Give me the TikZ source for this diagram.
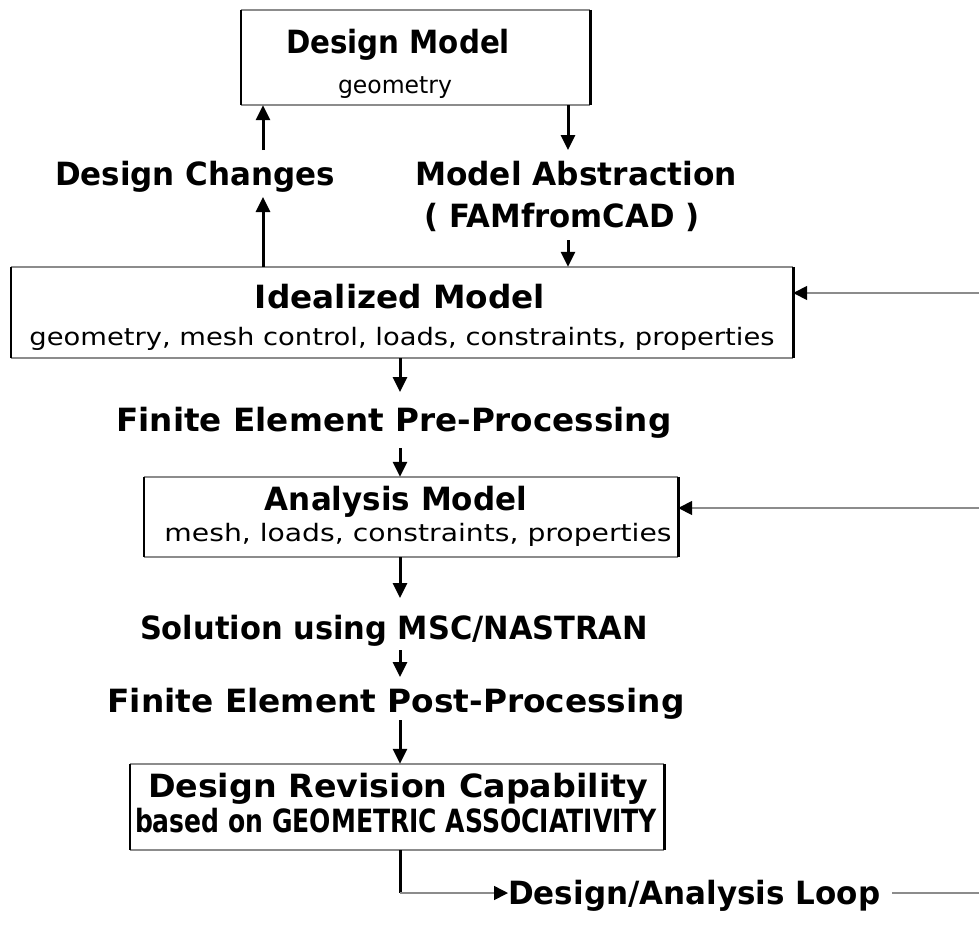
\documentclass[tikz,border=0pt]{standalone}
\usepackage{fontspec}
\setmainfont{DejaVu Sans}
\usetikzlibrary{arrows.meta}

% stretch a label horizontally to a given width, keeping its height
\newcommand{\fitw}[2]{\resizebox{#1}{\height}{#2}}

\tikzset{
  title/.style={font=\fontsize{32}{36}\selectfont\bfseries, inner sep=0pt, anchor=base},
  sub/.style={font=\fontsize{24}{28}\selectfont, inner sep=0pt, anchor=base},
  boxarea/.style={draw=none, inner sep=0pt, rectangle},
  hedge/.style={draw=black!45, line width=1.6pt},
  vedge/.style={draw=black, line width=2.6pt},
  flow/.style={draw=black, line width=3pt, -{Triangle[length=15pt,width=14pt]}},
  feed/.style={draw=black!45, line width=1.6pt, -{Triangle[length=14pt,width=14pt,color=black]}},
  plain/.style={draw=black!45, line width=1.6pt},
}

\begin{document}
\begin{tikzpicture}[x=1pt,y=-1pt]
\useasboundingbox (0,0) rectangle (979,926);

% boxes (corners)
\node[boxarea, minimum width=349pt, minimum height=95pt] (dm) at (415.5,57.5) {};
\node[boxarea, minimum width=782pt, minimum height=91pt] (im) at (402,312.5) {};
\node[boxarea, minimum width=534pt, minimum height=80pt] (am) at (411,517) {};
\node[boxarea, minimum width=534pt, minimum height=86pt] (rv) at (397,807) {};

% box frames: light horizontal rules, heavy vertical rules
\foreach \b in {dm,im,am,rv}{
  \draw[hedge] (\b.north west) -- (\b.north east);
  \draw[hedge] (\b.south west) -- (\b.south east);
  \draw[vedge] (\b.north west) -- (\b.south west);
  \draw[vedge] (\b.north east) -- (\b.south east);
}

% box texts
\node[title] (dmt) at (398,53) {\fitw{224pt}{Design Model}};
\node[sub]   (dms) at (395,93) {\fitw{114pt}{geometry}};
\node[title] (imt) at (400,308) {\fitw{290pt}{Idealized Model}};
\node[sub]   (ims) at (402,345) {\fitw{745pt}{geometry, mesh control, loads, constraints, properties}};
\node[title] (amt) at (396,510) {\fitw{262pt}{Analysis Model}};
\node[sub]   (ams) at (418,541) {\fitw{507pt}{mesh, loads, constraints, properties}};
\node[title] (rvt) at (398,797) {\fitw{500pt}{Design Revision Capability}};
\node[title] (rvs) at (396,832) {\fitw{522pt}{based on GEOMETRIC ASSOCIATIVITY}};

% free-standing labels
\node[title] (dc)  at (195,185) {\fitw{280pt}{Design Changes}};
\node[title] (ma)  at (576,185) {\fitw{322pt}{Model Abstraction}};
\node[title] (fam) at (562,227) {\fitw{275pt}{( FAMfromCAD )}};
\node[title] (pre) at (394,431) {\fitw{555pt}{Finite Element Pre-Processing}};
\node[title] (sol) at (394,639) {\fitw{508pt}{Solution using MSC/NASTRAN}};
\node[title] (post) at (396,712) {\fitw{577pt}{Finite Element Post-Processing}};
\node[title, anchor=base west] (loop) at (508,904) {\fitw{372pt}{Design/Analysis Loop}};

% connector end points
\coordinate (dcTop) at (263,150);
\coordinate (dcBot) at (263,197);
\coordinate (maTop) at (568,150);
\coordinate (maBot) at (568,240);
\coordinate (c1) at (400,392);
\coordinate (c2) at (400,448);
\coordinate (c3) at (400,598);
\coordinate (c4) at (400,650);
\coordinate (c5) at (400,720);
\coordinate (corner) at (400,893);
\coordinate (rIn1) at (979,293);
\coordinate (rIn2) at (979,508);
\coordinate (rOut) at (979,893);

% main flow
\draw[flow] (dcTop) -- (dm.south west -| dcTop);
\draw[flow] (im.north -| dcBot) -- (dcBot);
\draw[flow] (dm.south -| maTop) -- (maTop);
\draw[flow] (maBot) -- (im.north -| maBot);
\draw[flow] (im.south -| c1) -- (c1);
\draw[flow] (c2) -- (am.north -| c2);
\draw[flow] (am.south -| c3) -- (c3);
\draw[flow] (c4) -- ++(0,27);
\draw[flow] (c5) -- (rv.north -| c5);

% design/analysis loop
\draw[vedge, line width=3pt] (rv.south -| corner) -- (corner);
\draw[feed] (corner) -- (loop.west |- corner);
\draw[plain] (loop.east |- corner) ++(12,0) -- (rOut);
\draw[feed] (rIn1) -- (im.east |- rIn1);
\draw[feed] (rIn2) -- (am.east |- rIn2);
\end{tikzpicture}
\end{document}
